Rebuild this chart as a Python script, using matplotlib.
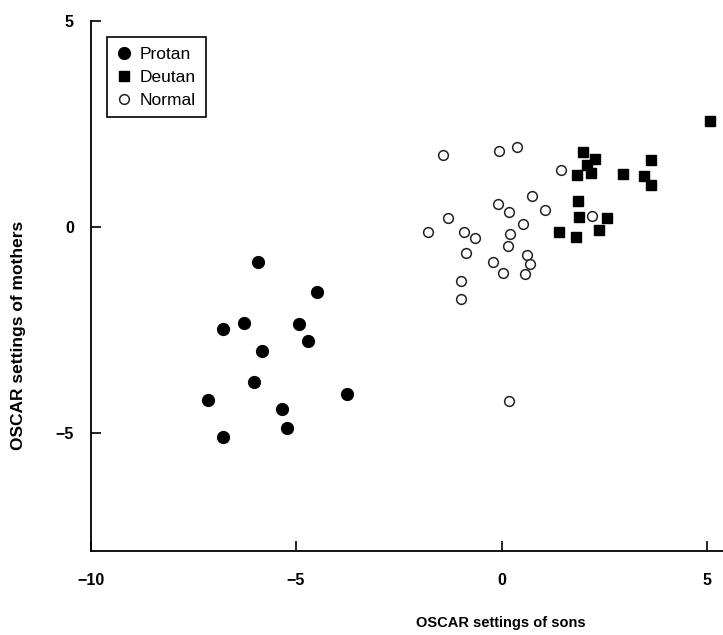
import numpy as np
import matplotlib
matplotlib.use("Agg")
import matplotlib.pyplot as plt

plt.rcParams['font.family'] = ['Liberation Sans', 'DejaVu Sans']

# values
protan_x = [-5.92, -4.49, -6.26, -6.77, -4.93, -4.71, -5.83, -6.03, -7.15, -3.76, -5.35, -5.23, -6.78]
protan_y = [-0.84, -1.58, -2.32, -2.48, -2.35, -2.75, -2.99, -3.76, -4.20, -4.04, -4.40, -4.87, -5.08]

deutan_x = [5.08, 1.99, 2.27, 2.07, 1.84, 2.17, 2.96, 3.63, 3.46, 3.63, 1.86, 1.89, 2.57, 1.39, 1.81, 2.37]
deutan_y = [2.56, 1.81, 1.64, 1.50, 1.27, 1.30, 1.29, 1.62, 1.24, 1.03, 0.63, 0.24, 0.22, -0.13, -0.25, -0.08]

normal_x = [-1.42, -0.06, 0.38, 1.44, 0.74, -0.10, 0.18, 1.05, -1.31, -1.79, -0.91, -0.65, 0.51,
            0.20, 0.16, -0.87, 0.61, 0.69, -0.20, 0.04, 0.57, -0.99, -1.00, 0.18, 2.20]
normal_y = [1.74, 1.84, 1.93, 1.38, 0.75, 0.55, 0.36, 0.42, 0.22, -0.12, -0.12, -0.27, 0.07,
            -0.17, -0.45, -0.62, -0.67, -0.90, -0.84, -1.12, -1.14, -1.30, -1.75, -4.21, 0.27]

fig = plt.figure(figsize=(7.23, 6.35), dpi=100)
ax = fig.add_axes([90.5/723, 1 - 550.7/635, 1 - 90.5/723, (550.7 - 20.7)/635])

ax.plot(protan_x, protan_y, 'o', color='black', markersize=8.5, label='Protan', clip_on=False)
ax.plot(deutan_x, deutan_y, 's', color='black', markersize=7.5, label='Deutan', clip_on=False)
ax.plot(normal_x, normal_y, 'o', markerfacecolor='white', markeredgecolor='#222222',
        markeredgewidth=1.1, markersize=7, label='Normal', clip_on=False)

ax.set_xlim(-10, 5.385)
ax.set_ylim(-7.84, 5)
ax.set_xticks([-10, -5, 0, 5])
ax.set_yticks([-5, 0, 5])
ax.set_xticklabels(['\u221210', '\u22125', '0', '5'])
ax.set_yticklabels(['\u22125', '0', '5'])

for s in ['top', 'right']:
    ax.spines[s].set_visible(False)
for s in ['left', 'bottom']:
    ax.spines[s].set_linewidth(1.3)

ax.tick_params(axis='both', direction='in', length=7, width=1.2, labelsize=11.5)
ax.tick_params(axis='x', pad=16)
ax.tick_params(axis='y', pad=12)
for lab in ax.get_xticklabels() + ax.get_yticklabels():
    lab.set_fontweight('bold')

fig.text(501/723, 1 - 623/635, 'OSCAR settings of sons', ha='center', va='center',
         fontsize=10.5, fontweight='bold')
fig.text(19/723, 1 - 335/635, 'OSCAR settings of mothers', ha='center', va='center',
         rotation=90, fontsize=12.5, fontweight='bold')

leg = ax.legend(loc='upper left', bbox_to_anchor=(107/723, 1 - 37/635),
                bbox_transform=fig.transFigure, borderaxespad=0, fancybox=False,
                framealpha=1, edgecolor='black', fontsize=12.5, handletextpad=0.45,
                labelspacing=0.45, borderpad=0.55, handlelength=0.9, numpoints=1)
leg.get_frame().set_linewidth(1.2)

fig.savefig('out.png', dpi=100)
